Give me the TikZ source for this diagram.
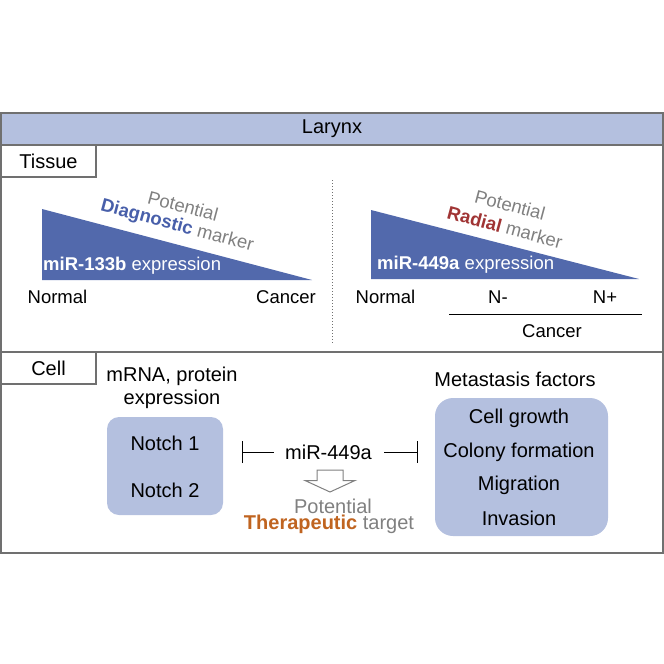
\documentclass[tikz,border=0pt]{standalone}
\usepackage{fontspec}
\setmainfont{Liberation Sans}
\usetikzlibrary{arrows.meta}
\definecolor{hdr}{RGB}{180,192,223}
\definecolor{tri}{RGB}{82,105,172}
\definecolor{diag}{RGB}{72,95,170}
\definecolor{radial}{RGB}{160,52,52}
\definecolor{thera}{RGB}{192,100,32}
\definecolor{gtxt}{RGB}{128,128,128}
\definecolor{framec}{RGB}{112,112,112}
\begin{document}
\begin{tikzpicture}[x=1pt,y=-1pt,
  fr/.style={draw=framec, line width=1.6pt},
  txt/.style={font=\fontsize{18.5}{21.5}\selectfont, inner sep=0pt},
  ctxt/.style={font=\fontsize{20}{23}\selectfont, inner sep=0pt},
  rbox/.style={fill=hdr, draw=none, rounded corners=#1, inner sep=0pt},
  inhib/.style={draw=black, line width=1pt, -{Bar[width=22pt,line width=1pt]}}
]
\useasboundingbox (0,0) rectangle (664,664);
% frames
\draw[fr, fill=hdr] (1,113) rectangle (663,145);
\draw[fr] (1,145) rectangle (663,352);
\draw[fr] (1,352) rectangle (663,553);
\draw[fr, fill=white] (1,145) rectangle (96,177);
\draw[fr, fill=white] (1,352) rectangle (96,384);
\node[ctxt] (larynx) at (332,129) {Larynx};
\node[ctxt] (tissue) at (48.5,161) {Tissue};
\node[ctxt] (cell) at (48.5,368) {Cell};
% divider
\draw[framec, dotted, line width=1pt] (332,180) -- (332,343);
% left triangle
\fill[tri] (42,209) -- (312,280) -- (42,280) -- cycle;
\node[txt, anchor=west, text=white] (e1) at (43,266) {\textbf{miR-133b} expression};
\node[txt, rotate=-15, text=gtxt] (p1) at (183,206) {Potential};
\node[txt, rotate=-15, text=gtxt] (m1) at (177,226) {\textcolor{diag}{\textbf{Diagnostic}} marker};
\node[txt] (n1) at (57.5,297) {Normal};
\node[txt] (c1) at (286,297) {Cancer};
% right triangle
\fill[tri] (371,210) -- (639,279) -- (371,279) -- cycle;
\node[txt, anchor=west, text=white] (e2) at (377,265) {\textbf{miR-449a} expression};
\node[txt, rotate=-15, text=gtxt] (p2) at (510,205) {Potential};
\node[txt, rotate=-15, text=gtxt] (m2) at (505,227) {\textcolor{radial}{\textbf{Radial}} marker};
\node[txt] (n2) at (385.5,297) {Normal};
\node[txt] (nm) at (498,297) {N-};
\node[txt] (np) at (605,297) {N+};
\draw[black, line width=1pt] (449,314) -- (642,314);
\node[txt] (c2) at (552,331) {Cancer};
% cell section
\node[ctxt, align=center] (mrna) at (172,387.5) {mRNA, protein\\expression};
\node[rbox=12pt, minimum width=116pt, minimum height=98pt] (notch) at (165,466) {};
\node[ctxt] (n1t) at (165,443) {Notch 1};
\node[ctxt] (n2t) at (165,490) {Notch 2};
\node[ctxt] (meta) at (515,379) {Metastasis factors};
\node[rbox=18pt, minimum width=173pt, minimum height=138pt] (mbox) at (521.5,467) {};
\node[ctxt] (f1) at (519,418) {Cell growth};
\node[ctxt] (f2) at (519,452) {Colony formation};
\node[ctxt] (f3) at (519,485) {Migration};
\node[ctxt] (f4) at (519,518) {Invasion};
\node[ctxt] (mir) at (328.5,452) {miR-449a};
\draw[inhib, shorten <=11pt, shorten >=19pt] (mir.west) -- (notch.east |- mir.west);
\draw[inhib, shorten <=12pt, shorten >=17pt] (mir.east) -- (mbox.west |- mir.east);
% hollow arrow
\draw[gtxt, line width=1pt, fill=white] (317,470) -- (343,470) -- (343,480.5) -- (355,480.5) -- (330,492) -- (305,480.5) -- (317,480.5) -- cycle;
\node[ctxt, text=gtxt] (pot) at (333,506) {Potential};
\node[ctxt, text=gtxt] (ther) at (329,524.5) {\textcolor{thera}{\textbf{Therapeutic}} target};
\end{tikzpicture}
\end{document}
